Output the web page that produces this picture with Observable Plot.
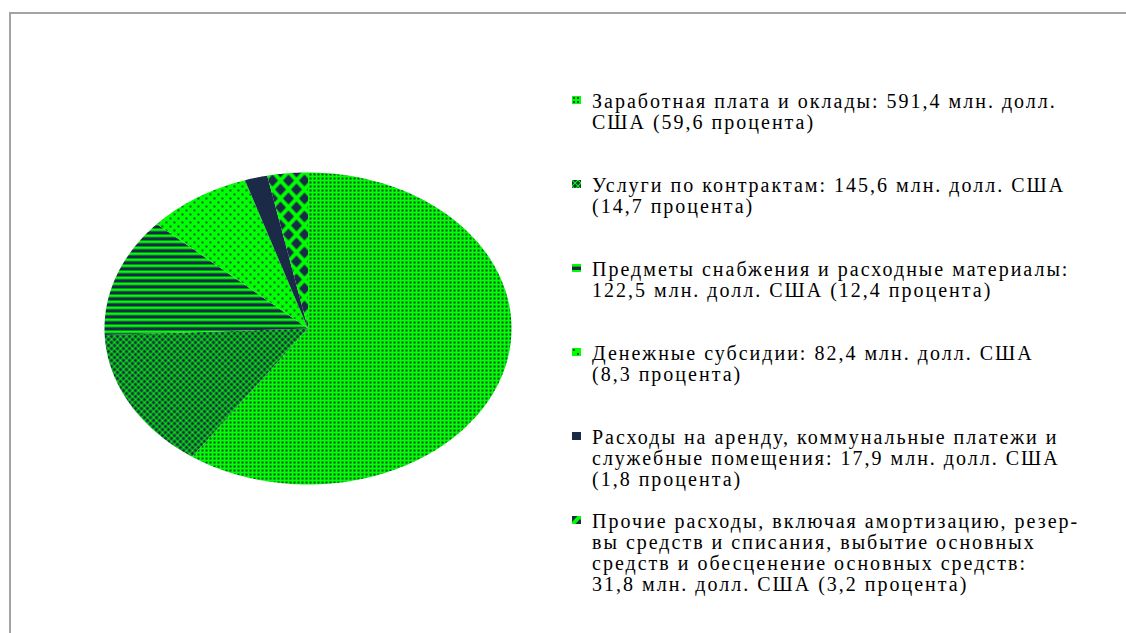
<!DOCTYPE html>
<html><head><meta charset="utf-8">
<script src="https://cdn.jsdelivr.net/npm/d3@7"></script>
<script src="https://cdn.jsdelivr.net/npm/@observablehq/plot@0.6"></script>
<style>
body{margin:0;background:#fff;}
#wrap{position:relative;width:1126px;height:633px;overflow:hidden;background:#fff;}
#frame{position:absolute;left:9px;top:12px;width:1200px;height:700px;border-top:2px solid #a3a3a3;border-left:2px solid #a3a3a3;}
#chart{position:absolute;left:0;top:0;}
#legend{position:absolute;left:572px;top:91px;font-family:'Liberation Serif','DejaVu Serif',serif;font-size:20px;line-height:21px;letter-spacing:2px;color:#000;}
.item{position:relative;height:84px;padding-left:20px;white-space:pre;}
.item svg{position:absolute;left:0;top:5px;}
</style></head><body>
<div id="wrap"><div id="frame"></div><div id="chart"></div><div id="legend"></div></div>
<script>
// ---- data ----
const categories = [
  "Заработная плата и оклады",
  "Услуги по контрактам",
  "Предметы снабжения и расходные материалы",
  "Денежные субсидии",
  "Расходы на аренду, коммунальные платежи и служебные помещения",
  "Прочие расходы"
];
const values = [591.4, 145.6, 122.5, 82.4, 17.9, 31.8];
const percents = [59.6, 14.7, 12.4, 8.3, 1.8, 3.2];
const legendLabels = [
  "Заработная плата и оклады: 591,4 млн. долл.\nСША (59,6 процента)",
  "Услуги по контрактам: 145,6 млн. долл. США\n(14,7 процента)",
  "Предметы снабжения и расходные материалы:\n122,5 млн. долл. США (12,4 процента)",
  "Денежные субсидии: 82,4 млн. долл. США\n(8,3 процента)",
  "Расходы на аренду, коммунальные платежи и\nслужебные помещения: 17,9 млн. долл. США\n(1,8 процента)",
  "Прочие расходы, включая амортизацию, резер-\nвы средств и списания, выбытие основных\nсредств и обесценение основных средств:\n31,8 млн. долл. США (3,2 процента)"
];
const patternIds = ["p0", "p1", "p2", "p3", "p4", "p5"];

// ---- geometry from data ----
const arcs = d3.pie().sort(null)(values);
const points = [];
arcs.forEach((a, i) => {
  points.push({slice: i, x: 0, y: 0});
  const n = Math.max(2, Math.ceil((a.endAngle - a.startAngle) / 0.01));
  for (let k = 0; k <= n; k++) {
    const t = a.startAngle + (a.endAngle - a.startAngle) * k / n;
    points.push({slice: i, x: Math.sin(t), y: Math.cos(t)});
  }
});

const G = "#00ff00", D = "#1b2a47";

const plot = Plot.plot({
  width: 1126,
  height: 633,
  marginLeft: 104,
  marginRight: 615,
  marginTop: 172,
  marginBottom: 149,
  x: {domain: [-1, 1], axis: null},
  y: {domain: [-1, 1], axis: null},
  color: {type: "identity"},
  style: {background: "transparent", overflow: "visible"},
  marks: [
    Plot.line(points, {
      x: "x", y: "y", z: "slice",
      fill: d => `url(#${patternIds[d.slice]})`,
      stroke: "none",
      curve: "linear-closed"
    })
  ]
});

// pattern definitions
const defs = d3.select(plot).insert("defs", ":first-child");
function pat(id, w, h) {
  return defs.append("pattern").attr("id", id).attr("patternUnits", "userSpaceOnUse")
    .attr("width", w).attr("height", h);
}
let p = pat("p0", 4, 4);
p.append("rect").attr("width", 4).attr("height", 4).attr("fill", G);
p.append("rect").attr("x", 1).attr("y", 1).attr("width", 2).attr("height", 2).attr("fill", "#10402c");

p = pat("p1", 6, 6);
p.append("rect").attr("width", 6).attr("height", 6).attr("fill", D);
p.append("path").attr("d", "M0,0L6,6M6,0L0,6").attr("stroke", G).attr("stroke-width", 1.1);

p = pat("p2", 6, 6);
p.append("rect").attr("width", 6).attr("height", 6).attr("fill", D);
p.append("rect").attr("y", 0).attr("width", 6).attr("height", 2.6).attr("fill", G);

p = pat("p3", 8, 8);
p.append("rect").attr("width", 8).attr("height", 8).attr("fill", G);
p.append("rect").attr("x", 1).attr("y", 1).attr("width", 1.8).attr("height", 1.8).attr("fill", D);
p.append("rect").attr("x", 5).attr("y", 5).attr("width", 1.8).attr("height", 1.8).attr("fill", D);

p = pat("p4", 4, 4);
p.append("rect").attr("width", 4).attr("height", 4).attr("fill", D);

p = pat("p5", 16, 18);
p.append("rect").attr("width", 16).attr("height", 18).attr("fill", G);
p.append("path").attr("d", "M8,3L13.5,9L8,15L2.5,9Z M0,-6L5.5,0L0,6L-5.5,0Z M16,-6L21.5,0L16,6L10.5,0Z M0,12L5.5,18L0,24L-5.5,18Z M16,12L21.5,18L16,24L10.5,18Z").attr("fill", D);

document.getElementById("chart").appendChild(plot);

// legend
const legend = d3.select("#legend");
legendLabels.forEach((label, i) => {
  const item = legend.append("div").attr("class", "item").text(label);
  const sw = item.append("svg").attr("width", 9).attr("height", 8);
  sw.append("rect").attr("width", 9).attr("height", 8).attr("fill", `url(#${patternIds[i]})`);
});
</script>
</body></html>
